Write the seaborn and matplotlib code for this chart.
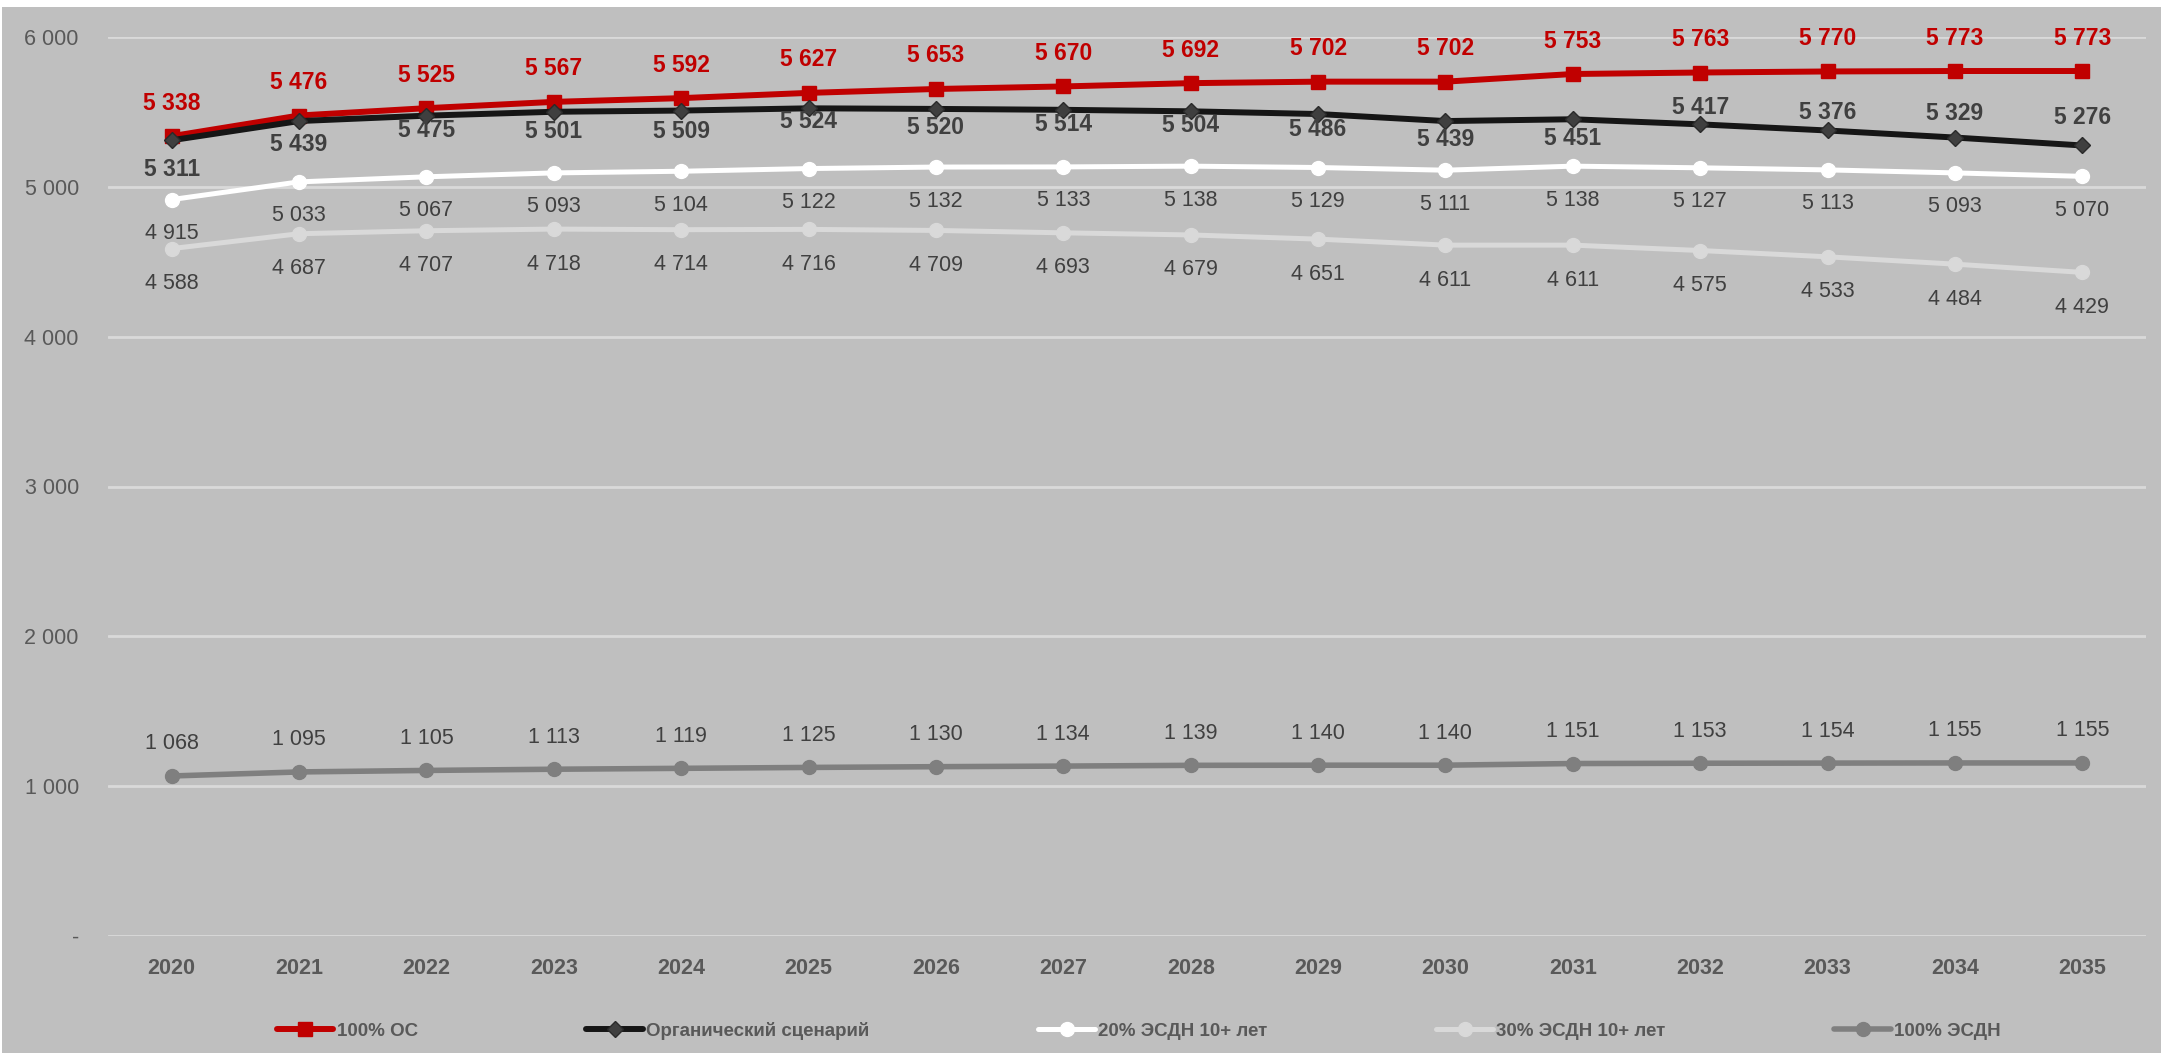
import matplotlib
matplotlib.use("Agg")
import matplotlib.pyplot as plt
import pandas as pd
import seaborn as sns
from matplotlib.patches import Rectangle
from matplotlib.ticker import FuncFormatter, MultipleLocator

# ---- data -------------------------------------------------------------
years = [str(y) for y in range(2020, 2036)]
full_os = [5338, 5476, 5525, 5567, 5592, 5627, 5653, 5670, 5692, 5702, 5702, 5753, 5763, 5770, 5773, 5773]
organic = [5311, 5439, 5475, 5501, 5509, 5524, 5520, 5514, 5504, 5486, 5439, 5451, 5417, 5376, 5329, 5276]
esdn20 = [4915, 5033, 5067, 5093, 5104, 5122, 5132, 5133, 5138, 5129, 5111, 5138, 5127, 5113, 5093, 5070]
esdn30 = [4588, 4687, 4707, 4718, 4714, 4716, 4709, 4693, 4679, 4651, 4611, 4611, 4575, 4533, 4484, 4429]
esdn100 = [1068, 1095, 1105, 1113, 1119, 1125, 1130, 1134, 1139, 1140, 1140, 1151, 1153, 1154, 1155, 1155]
series_names = ["100% ОС", "Органический сценарий", "20% ЭСДН 10+ лет", "30% ЭСДН 10+ лет", "100% ЭСДН"]
series_values = [full_os, organic, esdn20, esdn30, esdn100]

# ---- styling ----------------------------------------------------------
sns.set_style("white")
plt.rcParams["font.family"] = ["Liberation Sans", "DejaVu Sans"]

BG = "#BFBFBF"
GRID = "#D9D9D9"
TXT = "#404040"
TICK = "#595959"

styles = [
    dict(color="#C00000", marker="s", ms=9.5, mfc="#C00000", mec="#C00000", lw=4.3),
    dict(color="#161616", marker="D", ms=8.0, mfc="#3F3F3F", mec="#2A2A2A", lw=4.3),
    dict(color="#FFFFFF", marker="o", ms=10, mfc="#FFFFFF", mec="#FFFFFF", lw=3.6),
    dict(color="#D9D9D9", marker="o", ms=10, mfc="#D9D9D9", mec="#D9D9D9", lw=3.6),
    dict(color="#7F7F7F", marker="o", ms=10, mfc="#7F7F7F", mec="#7F7F7F", lw=4.0),
]

# label placement (pixel offsets below each point; negative = above)
organic_offsets = [29, 23, 15, 20, 21, 13, 19, 15, 14, 15, 18, 19, -17, -18, -24, -28]
label_offsets = [
    [-33] * 16,
    organic_offsets,
    [34] * 16,
    [35] * 16,
    [-32] * 16,
]
label_looks = [
    dict(color="#C00000", weight="bold", size=16.5),
    dict(color=TXT, weight="bold", size=16.5),
    dict(color=TXT, weight="normal", size=15.5),
    dict(color=TXT, weight="normal", size=15.5),
    dict(color=TXT, weight="normal", size=15.5),
]


def fmt_num(v):
    return f"{int(v):,}".replace(",", " ")


W, H = 2161, 1053
fig = plt.figure(figsize=(W / 100, H / 100), dpi=100, facecolor="white")
fig.patches.append(Rectangle((2 / W, 0), 1, 1 - 7 / H, transform=fig.transFigure,
                             facecolor=BG, edgecolor="none", zorder=-10))

ax = fig.add_axes([108 / W, 1 - 936 / H, 2038 / W, 899 / H])
ax.set_facecolor("none")

x_pos = list(range(len(years)))
for name, vals, st in zip(series_names, series_values, styles):
    df = pd.DataFrame({"x": x_pos, "y": vals})
    sns.lineplot(data=df, x="x", y="y", ax=ax, label=name, sort=False,
                 color=st["color"], linewidth=st["lw"], marker=st["marker"],
                 markersize=st["ms"], markerfacecolor=st["mfc"],
                 markeredgecolor=st["mec"], markeredgewidth=1.0,
                 solid_capstyle="round", clip_on=False)

for vals, offs, look in zip(series_values, label_offsets, label_looks):
    for xi, v, off in zip(x_pos, vals, offs):
        ax.annotate(fmt_num(v), (xi, v), xytext=(0, -off), textcoords="offset pixels",
                    ha="center", va="center", annotation_clip=False,
                    fontsize=look["size"], fontweight=look["weight"], color=look["color"])

ax.set_xlim(-0.5, len(years) - 0.5)
ax.set_ylim(0, 6000)
ax.yaxis.set_major_locator(MultipleLocator(1000))
ax.yaxis.set_major_formatter(FuncFormatter(lambda v, p: "-" if v == 0 else fmt_num(v)))
ax.set_xticks(x_pos)
ax.set_xticklabels(years)
ax.set_xlabel("")
ax.set_ylabel("")

ax.grid(axis="y", color=GRID, linewidth=2.0)
ax.grid(axis="x", visible=False)
ax.set_axisbelow(True)
for s in ax.spines.values():
    s.set_visible(False)

ax.tick_params(axis="y", length=0, pad=21, labelsize=15.5, labelcolor=TICK)
ax.tick_params(axis="x", length=0, pad=16, labelsize=15.5, labelcolor=TICK)
for t in ax.get_xticklabels():
    t.set_fontweight("bold")

handles, labels = ax.get_legend_handles_labels()
if ax.get_legend() is not None:
    ax.get_legend().remove()
fig.legend(handles, labels, loc="center", bbox_to_anchor=(0.527, 0.021), ncol=5,
           frameon=False, columnspacing=9.0, handlelength=3.0, handletextpad=0.2,
           prop=dict(weight="bold", size=13.5), labelcolor=TICK)

fig.savefig("out.png", dpi=100, facecolor="white")
